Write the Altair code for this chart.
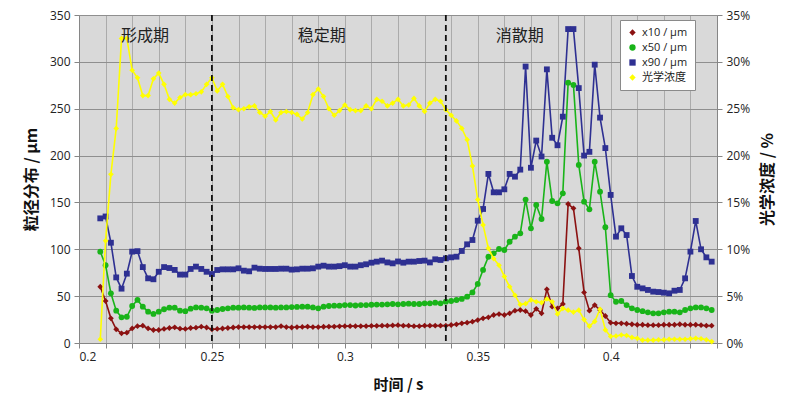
import altair as alt
import pandas as pd

# sampling instants (s)
t = [round(0.208 + 0.002 * i, 3) for i in range(116)]

x10 = [60, 44.8, 26.3, 14.6, 10.3, 11, 15.6, 18, 18.5, 15.6, 13.9, 13.9, 15, 16, 16.7, 15.3, 15, 16, 16.4, 17.4,
       16.5, 14.6, 15, 15.5, 16, 16.5, 17, 17, 17, 17, 17, 17, 17, 17, 18, 17, 16.5, 17, 17.2, 17.5,
       17, 17, 17.3, 17.5, 17.5, 17.8, 18, 18, 18, 18, 18, 18.3, 18.3, 18.5, 18.5, 18.8, 19, 18.5, 18.5,
       18, 18, 18.5, 18.5, 18.5, 18.5, 18.5, 19.2, 19.9, 21, 21.7, 22.8, 24.5, 26.3, 27.4, 29.9, 30.9, 29.9, 31.7, 34.5,
       35.2, 34, 29.9, 36.5, 31.7, 57.3, 38.8, 37, 41.6, 148.3, 143.7, 101, 54, 34.5, 40.5, 35.2, 28.8,
       21.7, 21, 21, 20.5, 20, 19.5, 19.5, 19, 19, 19, 19.5, 19.5, 19.5, 20, 19.5, 19.5, 19.5, 19, 18.5, 18.5]

x50 = [97.5, 83, 53, 34.5, 27.4, 28, 39.5, 46, 38.8, 33.4, 31, 33.4, 36, 37.7, 37.7, 34.5, 34, 36.6, 38, 37.7,
       37, 34.5, 35.2, 36.3, 37, 37.7, 37.7, 38, 37.7, 37.4, 38, 38, 38, 37.7, 38, 38, 38.3, 38.5, 38.8, 38.8,
       38, 37, 38.8, 39.5, 39.8, 39.8, 40.5, 40.5, 40, 40.5, 40.5, 40.8, 41, 41, 41.3, 41.6, 41.3, 41.6, 42,
       41.6, 41.6, 42.3, 42.3, 43, 42.3, 44.1, 44.8, 45.9, 47, 49.4, 54, 63, 78, 92, 95.7, 100.3, 99.2, 108, 113.5,
       117, 153, 122.4, 147.3, 132.3, 193.5, 151.5, 149, 159.7, 277.8, 275.3, 190, 150.8, 142.6, 193.5, 161.5, 123.5,
       51, 44, 44.8, 40.5, 37, 35.2, 34, 32.7, 31.7, 31.7, 32.7, 33.4, 33.4, 32.7, 35.2, 37, 38, 38, 37, 35.2]

x90 = [133, 135, 107, 70, 58, 74, 97.5, 98, 81, 69, 68, 76, 81, 80, 78, 73, 73, 79, 81.5, 79,
       76, 73.6, 77.9, 78.6, 78.6, 78.6, 79.7, 77.2, 76.5, 80.4, 79.3, 79, 79, 79, 79.3, 79.3, 78.3, 78.6, 79.3, 79.3,
       79.7, 81.5, 82.5, 81.5, 81.5, 82, 83, 81.5, 81.5, 83, 84, 85.7, 86.8, 87.9, 86, 85, 87, 85.7, 86.8,
       86.8, 87.5, 87.9, 86, 89.3, 88.6, 90.3, 91.4, 92.1, 98.2, 105.3, 109.9, 130.5, 143, 180.4, 160.8, 160.8, 164, 180.4, 177.5,
       185, 295, 187, 216, 199, 292, 219, 211, 241.5, 335, 335, 272, 200, 204, 297, 240.5, 208,
       158, 113.5, 122.4, 115.2, 71.5, 60, 58.3, 56.6, 54.8, 54.4, 53.7, 53, 55.8, 56.6, 69, 97.5, 130.2, 100, 91.4, 86.8]

# optical concentration (%)
conc = [0.4, 10.9, 18.0, 22.9, 32.5, 32.5, 29.1, 28.3, 26.4, 26.4, 28.2, 28.8, 27.6, 26.0, 25.6, 26.2, 26.5, 26.5, 26.6, 26.8, 27.6, 28.3,
        26.9, 27.6, 26.3, 25.1, 24.9, 25.0, 25.2, 25.3, 24.6, 24.2, 24.7, 23.8, 24.6, 24.7, 24.6, 24.4, 23.9, 24.6,
        26.5, 27.1, 26.3, 25.0, 24.3, 24.8, 25.4, 24.9, 24.8, 24.8, 25.3, 25.0, 26.0, 25.8, 25.3, 25.6, 26.0, 25.3, 25.4,
        26.1, 25.3, 24.7, 25.6, 26.0, 25.8, 24.9, 24.3, 23.7, 22.9, 21.7, 18.9, 15.3, 12.6, 10.1, 9.0, 8.3, 7.1, 6.0, 5.1,
        4.1, 4.2, 4.6, 4.4, 4.3, 4.7, 4.4, 3.1, 3.7, 3.5, 3.3, 3.5, 2.5, 1.8, 2.3, 3.6, 1.4, 0.7,
        0.75, 0.85, 0.8, 0.6, 0.5, 0.3, 0.3, 0.3, 0.35, 0.35, 0.4, 0.4, 0.4, 0.4, 0.45, 0.5, 0.45, 0.35, 0.15]

series_names = ["x10 / µm", "x50 / µm", "x90 / µm", "光学浓度"]
series_colors = ["#8B1111", "#19B419", "#2E3092", "#FFFF00"]
series_shapes = ["diamond", "circle", "square", "diamond"]

phase_names = ["形成期", "稳定期", "消散期"]
phase_x = [0.2248, 0.2913, 0.3658]
phase_y = [328, 328, 328]
boundaries = [0.25, 0.338]

x_ticks = [round(0.20 + 0.01 * i, 2) for i in range(25)]

rows = []
for name, vals in zip(series_names[:3], [x10, x50, x90]):
    for tt, v in zip(t, vals):
        rows.append({"t": tt, "v": v, "series": name})
left_df = pd.DataFrame(rows)
right_df = pd.DataFrame({"t": t, "p": [c / 100 for c in conc], "series": series_names[3]})
phase_df = pd.DataFrame({"t": phase_x, "v": phase_y, "label": phase_names})
bound_df = pd.DataFrame({"t": boundaries})

NUM_FONT = "Open Sans"
CJK_FONT = "Noto Sans CJK SC"

color_scale = alt.Scale(domain=series_names, range=series_colors)
shape_scale = alt.Scale(domain=series_names, range=series_shapes)

x_axis = alt.Axis(
    title="时间 / s", values=x_ticks,
    labelExpr="abs(datum.value*20 - round(datum.value*20)) < 0.0001 ? format(datum.value, '~g') : ''",
    labelOverlap=False, labelFont=NUM_FONT, labelFontSize=12, labelColor="#222222",
    titleFont=CJK_FONT, titleFontSize=15, titleFontWeight="bold", titleColor="#111111", titlePadding=15,
    grid=True, gridColor="#ababab", gridWidth=1,
    domainColor="#868686", tickColor="#868686", tickSize=5, labelPadding=3,
)
x_scale = alt.Scale(domain=[0.2, 0.44], nice=False, zero=False)


def xenc():
    return alt.X("t:Q", scale=x_scale, axis=x_axis)


y_left_scale = alt.Scale(domain=[0, 350], nice=False)
y_left_axis = alt.Axis(
    title="粒径分布 / µm", values=[0, 50, 100, 150, 200, 250, 300, 350],
    labelFont=NUM_FONT, labelFontSize=12, labelColor="#222222",
    titleFont=CJK_FONT, titleFontSize=16, titleFontWeight="bold", titleColor="#111111", titlePadding=10,
    grid=True, gridColor="#8f8f8f", gridWidth=1,
    domainColor="#868686", tickColor="#868686", tickSize=5, labelPadding=4,
)

legend = alt.Legend(title=None, orient="none", legendX=541, legendY=5,
                    fillColor="white", strokeColor="#8a8a8a", padding=7,
                    labelFont=f"{NUM_FONT}, {CJK_FONT}", labelFontSize=11,
                    labelColor="#222222", symbolSize=40, rowPadding=3,
                    labelLimit=120, symbolStrokeWidth=0)

left_layers = []
for name, col in zip(series_names[:3], series_colors[:3]):
    left_layers.append(
        alt.Chart(left_df).transform_filter(alt.datum.series == name)
        .mark_line(strokeWidth=1.6, color=col)
        .encode(x=xenc(), y=alt.Y("v:Q", scale=y_left_scale, axis=y_left_axis), order="t:Q")
    )
left_points = alt.Chart(left_df).mark_point(filled=True, size=34, opacity=1).encode(
    x=xenc(), y=alt.Y("v:Q", scale=y_left_scale, axis=y_left_axis),
    color=alt.Color("series:N", scale=color_scale, sort=series_names, legend=legend),
    shape=alt.Shape("series:N", scale=shape_scale, sort=series_names, legend=legend),
)
left = alt.layer(*left_layers, left_points)

y_right_scale = alt.Scale(domain=[0, 0.35], nice=False)
y_right_axis = alt.Axis(
    title="光学浓度 / %", orient="right", format=".0%",
    values=[0, 0.05, 0.1, 0.15, 0.2, 0.25, 0.3, 0.35],
    labelFont=NUM_FONT, labelFontSize=12, labelColor="#222222",
    titleFont=CJK_FONT, titleFontSize=16, titleFontWeight="bold", titleColor="#111111",
    titleAngle=270, titleBaseline="top", titlePadding=10,
    grid=False, domainColor="#868686", tickColor="#868686", tickSize=5, labelPadding=4,
)
right_line = alt.Chart(right_df).mark_line(strokeWidth=1.6, color=series_colors[3]).encode(
    x=xenc(), y=alt.Y("p:Q", scale=y_right_scale, axis=y_right_axis), order="t:Q",
)
right_points = alt.Chart(right_df).mark_point(filled=True, size=32, opacity=1).encode(
    x=xenc(), y=alt.Y("p:Q", scale=y_right_scale, axis=y_right_axis),
    color=alt.Color("series:N", scale=color_scale, sort=series_names, legend=legend),
    shape=alt.Shape("series:N", scale=shape_scale, sort=series_names, legend=legend),
)
right = alt.layer(right_line, right_points)

rules = alt.Chart(bound_df).mark_rule(color="#111111", strokeWidth=1.8, strokeDash=[6, 4]).encode(
    x=xenc(),
)
texts = alt.Chart(phase_df).mark_text(font=CJK_FONT, fontSize=16, color="#222222", baseline="middle").encode(
    x=xenc(),
    y=alt.Y("v:Q", scale=y_left_scale, axis=None),
    text="label:N",
)
overlay = alt.layer(rules, texts)

chart = alt.layer(left, right, overlay).resolve_scale(y="independent").properties(
    width=638, height=328,
    padding={"left": 71, "top": 7, "right": 70, "bottom": 60},
    autosize=alt.AutoSizeParams(type="none"),
    background="white",
).configure_view(fill="#D9D9D9", stroke=None)

chart.save("out.html", embed_options={"renderer": "svg", "actions": False})
